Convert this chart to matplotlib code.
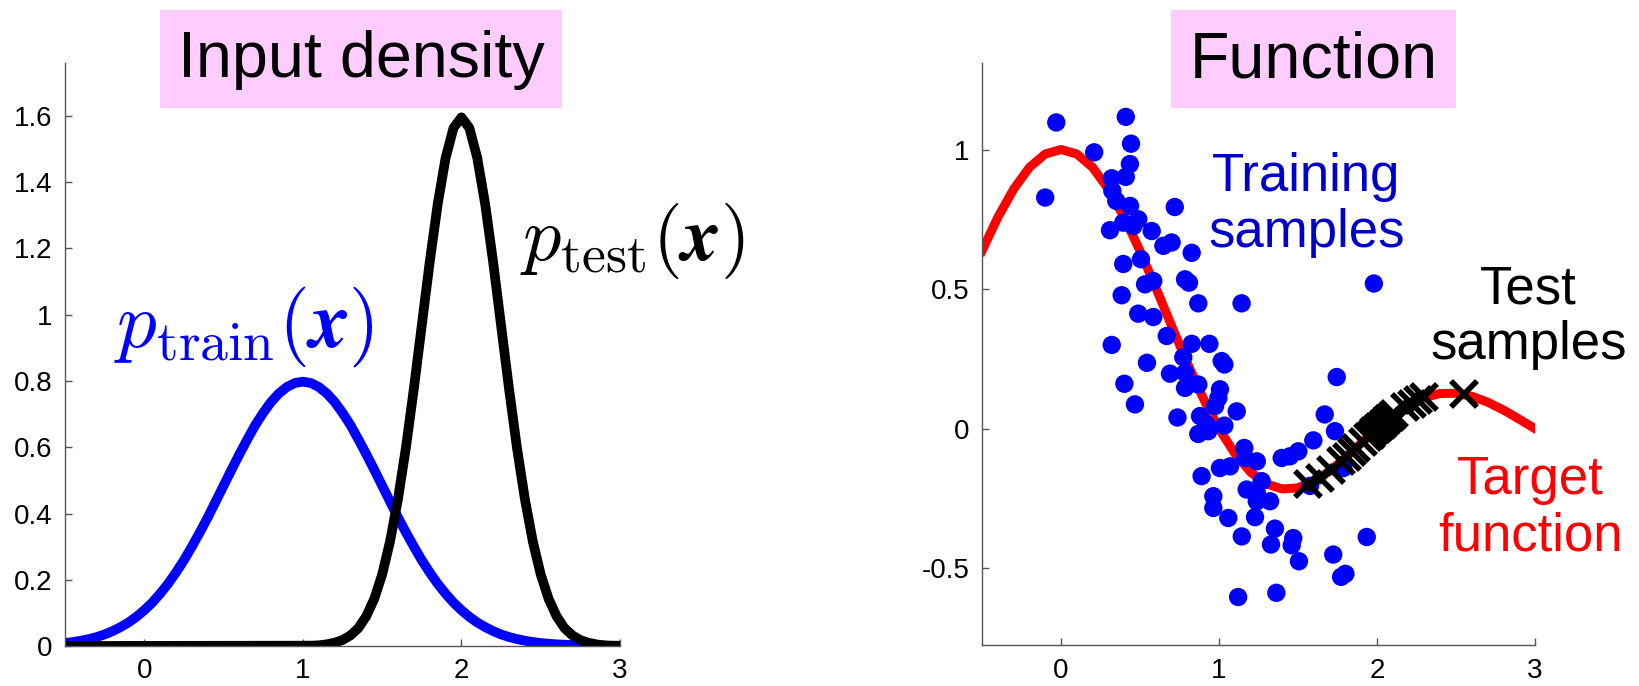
import numpy as np
import matplotlib
matplotlib.use("Agg")
import matplotlib.pyplot as plt
from matplotlib.patches import Rectangle

plt.rcParams['font.family'] = ['Liberation Sans', 'DejaVu Sans']
plt.rcParams['mathtext.fontset'] = 'cm'

# --- input densities (left) ---
x_train_pdf = np.round(np.arange(-0.5, 3.001, 0.05), 2)
p_train = [0.009, 0.012, 0.016, 0.021, 0.027, 0.035, 0.045, 0.057, 0.071, 0.088,
           0.108, 0.131, 0.158, 0.188, 0.222, 0.259, 0.300, 0.343, 0.388, 0.436,
           0.484, 0.532, 0.579, 0.624, 0.667, 0.704, 0.737, 0.763, 0.782, 0.794,
           0.798, 0.794, 0.782, 0.763, 0.737, 0.704, 0.667, 0.624, 0.579, 0.532,
           0.484, 0.436, 0.388, 0.343, 0.300, 0.259, 0.222, 0.188, 0.158, 0.131,
           0.108, 0.088, 0.071, 0.057, 0.045, 0.035, 0.027, 0.021, 0.016, 0.012,
           0.009, 0.007, 0.005, 0.004, 0.003, 0.002, 0.001, 0.001, 0.001, 0.000,
           0.000]

x_test_pdf = np.concatenate([[-0.5], np.round(np.arange(1.0, 3.001, 0.05), 2)])
p_test = [0.000,
          0.001, 0.001, 0.002, 0.005, 0.010, 0.018, 0.032, 0.054, 0.090, 0.142,
          0.216, 0.316, 0.444, 0.599, 0.777, 0.968, 1.159, 1.333, 1.473, 1.564,
          1.596, 1.564, 1.473, 1.333, 1.159, 0.968, 0.777, 0.599, 0.444, 0.316,
          0.216, 0.142, 0.090, 0.054, 0.032, 0.018, 0.010, 0.005, 0.002, 0.001,
          0.001]

# --- target function and samples (right) ---
x_target = np.round(np.arange(-0.5, 3.01, 0.1), 2)
y_target = [0.637, 0.757, 0.858, 0.936, 0.984, 1.000, 0.984, 0.936, 0.858, 0.757,
            0.637, 0.505, 0.368, 0.234, 0.109, 0.000, -0.089, -0.156, -0.198, -0.216,
            -0.212, -0.189, -0.152, -0.104, -0.052, 0.000, 0.047, 0.085, 0.112, 0.126,
            0.127, 0.116, 0.095, 0.067, 0.034, 0.000]

x_train = [-0.03, -0.10, 0.21, 0.41, 0.443, 0.436, 0.41, 0.321, 0.325, 0.35,
           0.437, 0.72, 0.31, 0.394, 0.489, 0.574, 0.458, 0.648, 0.70, 0.827,
           0.506, 0.394, 0.785, 0.81, 0.532, 0.584, 0.384, 0.869, 1.143, 0.489,
           0.584, 1.98, 0.321, 0.669, 0.827, 0.939, 0.774, 1.017, 1.034, 0.544,
           0.69, 0.785, 0.401, 0.785, 0.869, 1.006, 0.996, 1.745, 0.468, 0.975,
           1.112, 0.737, 0.88, 0.922, 1.034, 0.869, 0.932, 1.669, 1.734, 1.597,
           1.502, 1.449, 1.397, 1.16, 1.165, 1.239, 1.006, 1.07, 0.89, 1.27,
           1.175, 1.239, 1.323, 1.239, 0.964, 0.964, 1.059, 1.228, 1.354, 1.144,
           1.47, 1.329, 1.46, 1.506, 1.723, 1.935, 1.773, 1.80, 1.121, 1.363,
           1.576, 1.787]
y_train = [1.097, 0.828, 0.99, 1.117, 1.021, 0.948, 0.902, 0.897, 0.852, 0.816,
           0.798, 0.794, 0.711, 0.738, 0.75, 0.708, 0.726, 0.655, 0.667, 0.63,
           0.607, 0.59, 0.535, 0.523, 0.517, 0.529, 0.478, 0.449, 0.449, 0.412,
           0.40, 0.52, 0.30, 0.332, 0.304, 0.304, 0.256, 0.242, 0.23, 0.236,
           0.197, 0.20, 0.161, 0.146, 0.158, 0.141, 0.11, 0.185, 0.087, 0.081,
           0.062, 0.04, 0.045, 0.015, 0.011, -0.019, -0.009, 0.051, -0.009, -0.042,
           -0.081, -0.099, -0.105, -0.069, -0.105, -0.117, -0.141, -0.135, -0.17, -0.188,
           -0.218, -0.23, -0.26, -0.26, -0.242, -0.284, -0.32, -0.317, -0.358, -0.386,
           -0.392, -0.415, -0.418, -0.475, -0.451, -0.388, -0.531, -0.52, -0.603, -0.588,
           -0.205, -0.141]

x_test = [1.565, 1.64, 1.71, 1.775, 1.81, 1.84, 1.87, 1.91, 1.94, 1.96,
          1.98, 2.00, 2.01, 2.03, 2.05, 2.07, 2.09, 2.11, 2.18, 2.22,
          2.26, 2.30, 2.55]
y_test = [-0.199, -0.176, -0.147, -0.116, -0.100, -0.083, -0.068, -0.047, -0.031, -0.021,
          -0.010, 0.000, 0.005, 0.014, 0.024, 0.033, 0.042, 0.051, 0.077, 0.090,
          0.103, 0.112, 0.124]

W, H = 1639, 686
fig = plt.figure(figsize=(W / 100, H / 100), dpi=100)

spine_col = '#555555'


def style(ax):
    for s in ['top', 'right']:
        ax.spines[s].set_visible(False)
    for s in ['left', 'bottom']:
        ax.spines[s].set_color(spine_col)
        ax.spines[s].set_linewidth(1.0)
    ax.tick_params(direction='in', length=5, width=1, color=spine_col,
                   labelsize=20, pad=9)


def box_title(x0, x1, label):
    y0, y1 = 10, 108
    fig.patches.append(Rectangle((x0 / W, 1 - y1 / H), (x1 - x0) / W, (y1 - y0) / H,
                                 transform=fig.transFigure, facecolor='#FFCCFF',
                                 edgecolor='none', zorder=5))
    fig.text((x0 + x1) / 2 / W, 1 - 60 / H, label, fontsize=46.5, ha='center',
             va='center', zorder=6)


# left panel
ax1 = fig.add_axes([65 / W, 1 - 646 / H, 555 / W, 583 / H])
ax1.plot(x_train_pdf, p_train, color='#0000FF', lw=7, solid_capstyle='butt')
ax1.plot(x_test_pdf, p_test, color='black', lw=7, solid_capstyle='butt')
ax1.set_xlim(-0.5, 3)
ax1.set_ylim(0, 1.76)
ax1.set_xticks([0, 1, 2, 3])
ax1.set_yticks([0, 0.2, 0.4, 0.6, 0.8, 1, 1.2, 1.4, 1.6])
ax1.set_yticklabels(['0', '0.2', '0.4', '0.6', '0.8', '1', '1.2', '1.4', '1.6'])
style(ax1)
ax1.text(-0.19, 0.905, r'$p_{\rm train}(\boldsymbol{x})$', color='#0000FF',
         fontsize=57, ha='left', va='baseline')
ax1.text(2.37, 1.165, r'$p_{\rm test}(\boldsymbol{x})$', color='black',
         fontsize=55, ha='left', va='baseline')

# right panel
ax2 = fig.add_axes([982 / W, 1 - 645 / H, 553 / W, 582 / H])
ax2.plot(x_target, y_target, color='#FF0000', lw=6.5, zorder=2)
ax2.scatter(x_train, y_train, s=175, color='#0000FF', edgecolors='none', zorder=3)
ax2.plot(x_test, y_test, ls='none', marker='x', ms=19, mew=4, color='black', zorder=4)
ax2.set_xlim(-0.5, 3)
ax2.set_ylim(-0.775, 1.31)
ax2.set_xticks([0, 1, 2, 3])
ax2.set_yticks([-0.5, 0, 0.5, 1])
ax2.set_yticklabels(['-0.5', '0', '0.5', '1'])
style(ax2)
ax2.text(1.554, 0.80, 'Training\nsamples', color='#0000CC', fontsize=38,
         ha='center', va='center', linespacing=1.15)
ax2.text(2.96, 0.40, 'Test\nsamples', color='black', fontsize=38,
         ha='center', va='center', linespacing=1.15, clip_on=False)
ax2.text(2.97, -0.285, 'Target\nfunction', color='#FF0000', fontsize=38,
         ha='center', va='center', linespacing=1.15, clip_on=False)

box_title(160, 562, 'Input density')
box_title(1171, 1456, 'Function')

fig.savefig('out.png', dpi=100)
